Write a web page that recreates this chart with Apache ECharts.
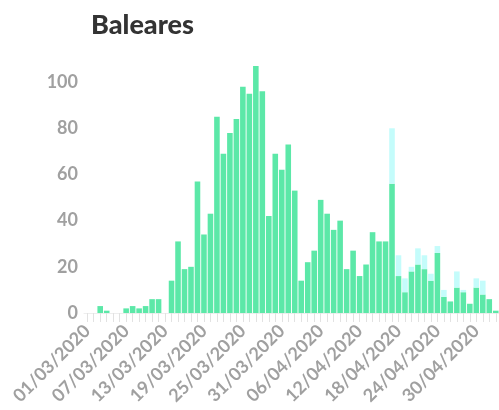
<!DOCTYPE html>
<html>
<head>
<meta charset="utf-8">
<script src="https://cdn.jsdelivr.net/npm/echarts@6/dist/echarts.min.js"></script>
<style>
  html, body { margin: 0; padding: 0; background: #fff; }
  #chart { width: 499px; height: 410px; }
</style>
</head>
<body>
<div id="chart"></div>
<script>
// dias desde 01/03/2020 hasta 03/05/2020
var days = [
  '01/03/2020','02/03/2020','03/03/2020','04/03/2020','05/03/2020','06/03/2020','07/03/2020','08/03/2020',
  '09/03/2020','10/03/2020','11/03/2020','12/03/2020','13/03/2020','14/03/2020','15/03/2020','16/03/2020',
  '17/03/2020','18/03/2020','19/03/2020','20/03/2020','21/03/2020','22/03/2020','23/03/2020','24/03/2020',
  '25/03/2020','26/03/2020','27/03/2020','28/03/2020','29/03/2020','30/03/2020','31/03/2020','01/04/2020',
  '02/04/2020','03/04/2020','04/04/2020','05/04/2020','06/04/2020','07/04/2020','08/04/2020','09/04/2020',
  '10/04/2020','11/04/2020','12/04/2020','13/04/2020','14/04/2020','15/04/2020','16/04/2020','17/04/2020',
  '18/04/2020','19/04/2020','20/04/2020','21/04/2020','22/04/2020','23/04/2020','24/04/2020','25/04/2020',
  '26/04/2020','27/04/2020','28/04/2020','29/04/2020','30/04/2020','01/05/2020','02/05/2020','03/05/2020'
];

// casos (verde)
var casos = [
  0, 0, 3, 1, 0, 0, 2, 3,
  2, 3, 6, 6, 0, 14, 31, 19,
  20, 57, 34, 43, 85, 69, 78, 84,
  98, 95, 107, 96, 42, 69, 62, 73,
  53, 14, 22, 27, 49, 43, 36, 40,
  19, 27, 16, 21, 35, 31, 31, 56,
  16, 9, 18, 21, 19, 14, 26, 7,
  5, 11, 9, 4, 11, 8, 6, 1
];

// parte extra (cian) encima
var extra = [
  0, 0, 0, 0, 0, 0, 0, 0,
  0, 0, 0, 0, 0, 0, 0, 0,
  0, 0, 0, 0, 0, 0, 0, 0,
  0, 0, 0, 0, 0, 0, 0, 0,
  0, 0, 0, 0, 0, 0, 0, 0,
  0, 0, 0, 0, 0, 0, 0, 24,
  9, 6, 2, 7, 6, 3, 3, 3,
  0, 7, 1, 0, 4, 6, 0, 0
];

var yTicks = [0, 20, 40, 60, 80, 100];

var myChart = echarts.init(document.getElementById('chart'));

var labelStyle = {
  color: '#a0a0a0',
  fontFamily: 'Lato',
  fontWeight: 'bold',
  fontSize: 18
};

var option = {
  animation: false,
  title: {
    text: 'Baleares',
    left: 86,
    top: 7,
    textStyle: {
      color: '#333',
      fontFamily: 'Lato',
      fontWeight: 900,
      fontSize: 27
    }
  },
  grid: {
    left: 84,
    top: 59,
    right: -3,
    bottom: 97,
    containLabel: false
  },
  xAxis: {
    type: 'category',
    data: days,
    axisLine: { show: true, lineStyle: { color: '#eeeeee', width: 1 } },
    axisTick: {
      show: true,
      alignWithLabel: true,
      interval: 0,
      length: 9,
      lineStyle: { color: '#e2e2e2' }
    },
    axisLabel: Object.assign({
      interval: 5,
      rotate: 45,
      margin: 15
    }, labelStyle)
  },
  yAxis: {
    type: 'value',
    min: yTicks[0],
    max: 110,
    interval: 20,
    splitLine: { show: false },
    axisLine: { show: false },
    axisTick: { show: false },
    axisLabel: Object.assign({
      margin: 6,
      showMaxLabel: false
    }, labelStyle)
  },
  series: [
    {
      name: 'casos',
      type: 'bar',
      stack: 'total',
      data: casos,
      barCategoryGap: '14%',
      itemStyle: { color: '#5ce8a8' }
    },
    {
      name: 'extra',
      type: 'bar',
      stack: 'total',
      data: extra,
      barCategoryGap: '14%',
      itemStyle: { color: '#c4fcfb' }
    }
  ]
};

myChart.setOption(option);
</script>
</body>
</html>
